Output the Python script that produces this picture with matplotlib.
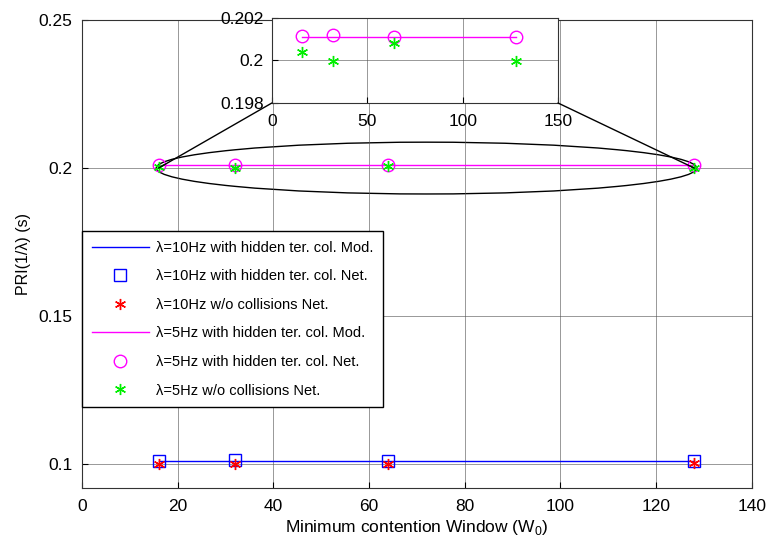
import matplotlib.pyplot as plt
from matplotlib.patches import Ellipse, ConnectionPatch

# Ventana de contención mínima W0
w0 = [16, 32, 64, 128]

# lambda = 10 Hz
pri10_mod = [0.1012, 0.1012, 0.1012, 0.1012]
pri10_net = [0.1011, 0.1014, 0.1010, 0.1010]
pri10_sin = [0.0999, 0.1000, 0.0999, 0.1003]

# lambda = 5 Hz
pri5_mod = [0.20112, 0.20112, 0.20112, 0.20112]
pri5_net = [0.20113, 0.20118, 0.20112, 0.20112]
pri5_sin = [0.20040, 0.19998, 0.20080, 0.19998]

etiquetas = ['λ=10Hz with hidden ter. col. Mod.',
             'λ=10Hz with hidden ter. col. Net.',
             'λ=10Hz w/o collisions Net.',
             'λ=5Hz with hidden ter. col. Mod.',
             'λ=5Hz with hidden ter. col. Net.',
             'λ=5Hz w/o collisions Net.']

plt.rcParams['font.family'] = ['Liberation Sans', 'DejaVu Sans']
plt.rcParams['mathtext.fontset'] = 'custom'
plt.rcParams['mathtext.rm'] = 'Liberation Sans'

ASTER = (6, 2, 0)  # asterisco de 6 brazos

fig = plt.figure(figsize=(7.67, 5.42), dpi=100)
ax = fig.add_axes([0.107, 0.100, 0.873, 0.863])


def dibujar(a, ms=8):
    a.plot(w0, pri10_mod, color='blue', lw=1, label=etiquetas[0])
    a.plot(w0, pri10_net, 's', mfc='none', mec='blue', ms=ms, mew=1, label=etiquetas[1])
    a.plot(w0, pri10_sin, marker=ASTER, ls='none', color='red', ms=ms, mew=1, label=etiquetas[2])
    a.plot(w0, pri5_mod, color='magenta', lw=1, label=etiquetas[3])
    a.plot(w0, pri5_net, 'o', mfc='none', mec='magenta', ms=ms + 1, mew=1, label=etiquetas[4])
    a.plot(w0, pri5_sin, marker=ASTER, ls='none', color='#00ee00', ms=ms, mew=1, label=etiquetas[5])


def estilo(a):
    a.grid(True, color='#555555', lw=0.6, alpha=0.7)
    a.tick_params(direction='in', labelsize=12.5, length=4, pad=8)
    for s in a.spines.values():
        s.set_color('#333333')
        s.set_linewidth(0.8)


dibujar(ax)
estilo(ax)
ax.tick_params(axis='y', pad=7)
ax.set_xlim(0, 140)
ax.set_ylim(0.092, 0.25)
ax.set_xticks(range(0, 141, 20))
ax.set_yticks([0.1, 0.15, 0.2, 0.25])
ax.set_yticklabels(['0.1', '0.15', '0.2', '0.25'])
ax.set_xlabel('Minimum contention Window (W$_0$)', fontsize=12.5, labelpad=3)
ax.set_ylabel('PRI(1/λ) (s)', fontsize=11.5, labelpad=5)

leg = ax.legend(loc='upper left', bbox_to_anchor=(0.0, 0.549), borderaxespad=0,
                fontsize=10.5, frameon=True, fancybox=False, framealpha=1,
                edgecolor='black', handlelength=3.9, borderpad=0.66,
                labelspacing=1.0, handletextpad=0.5)
leg.get_frame().set_linewidth(1)

# Elipse que marca la zona ampliada
ax.add_patch(Ellipse((72, 0.2), 113, 0.0175, fill=False, color='black', lw=1))

# Zoom de la curva de 5 Hz
axz = fig.add_axes([0.3545, 0.810, 0.373, 0.157])
dibujar(axz)
estilo(axz)
axz.tick_params(axis='y', pad=6)
axz.set_xlim(0, 150)
axz.set_ylim(0.198, 0.202)
axz.set_xticks([0, 50, 100, 150])
axz.set_yticks([0.198, 0.2, 0.202])
axz.set_yticklabels(['0.198', '0.2', '0.202'])

for xi, xc in [(0, 16), (1, 128)]:
    con = ConnectionPatch(xyA=(xi, 0), coordsA=axz.transAxes,
                          xyB=(xc, 0.2), coordsB=ax.transData,
                          color='black', lw=1)
    fig.add_artist(con)

fig.savefig('out.png', dpi=100)
